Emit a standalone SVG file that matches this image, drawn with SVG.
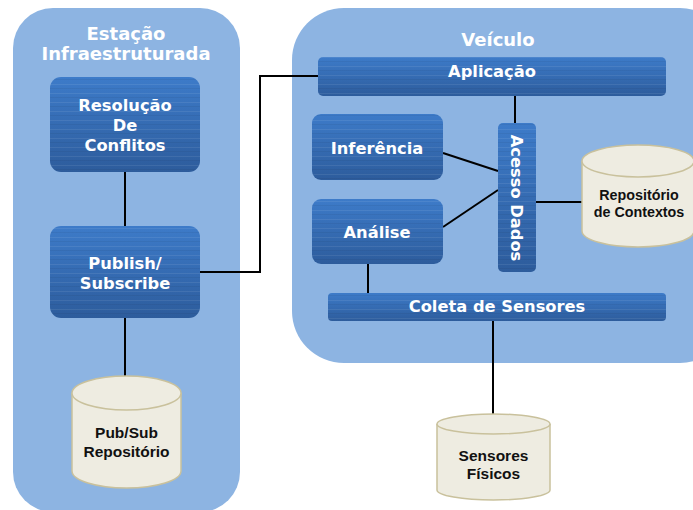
<svg xmlns="http://www.w3.org/2000/svg" width="693" height="510" viewBox="0 0 693 510">
<defs>
<linearGradient id="boxGrad" x1="0" y1="0" x2="0" y2="1">
<stop offset="0" stop-color="#3d7bc9"/>
<stop offset="1" stop-color="#2d5c9c"/>
</linearGradient>
<pattern id="stripes" width="8" height="9" patternUnits="userSpaceOnUse">
<rect x="0" y="3" width="8" height="1" fill="#ffffff" opacity="0.08"/>
<rect x="0" y="7" width="8" height="1" fill="#000000" opacity="0.05"/>
</pattern>
<style>
.container{fill:#8db4e2;}
.box{fill:url(#boxGrad);}
.tex{fill:url(#stripes);}
.title{font-family:"DejaVu Sans",sans-serif;font-weight:bold;font-size:18px;fill:#ffffff;text-anchor:middle;}
.lbl{font-family:"DejaVu Sans",sans-serif;font-weight:bold;font-size:16.3px;fill:#ffffff;text-anchor:middle;}
.cyl{fill:#eeece1;stroke:#c9c19c;stroke-width:1.5;}
.clbl{font-family:"Liberation Sans",Arial,sans-serif;font-weight:bold;font-size:15.5px;fill:#111111;text-anchor:middle;}
.conn{stroke:#000000;stroke-width:2;fill:none;}
</style>
</defs>
<rect width="693" height="510" fill="#ffffff"/>

<g id="estacao">
<rect class="container" x="13" y="8" width="227" height="504" rx="40"/>
<text class="title" x="126" y="40">Estação</text>
<text class="title" x="126" y="60">Infraestruturada</text>
</g>

<g id="veiculo">
<rect class="container" x="292" y="8" width="440" height="355" rx="52"/>
<text class="title" x="498" y="46">Veículo</text>
</g>

<g id="connectors">
<line class="conn" x1="125" y1="172" x2="125" y2="226"/>
<line class="conn" x1="125" y1="318" x2="125" y2="377"/>
<polyline class="conn" points="200,272 260,272 260,76 318,76"/>
<line class="conn" x1="515" y1="96" x2="515" y2="124"/>
<line class="conn" x1="443" y1="153" x2="498" y2="171"/>
<line class="conn" x1="443" y1="227" x2="498" y2="190"/>
<line class="conn" x1="536" y1="202" x2="583" y2="202"/>
<line class="conn" x1="368" y1="264" x2="368" y2="293"/>
<line class="conn" x1="493" y1="321" x2="493" y2="414"/>
</g>

<g id="resolucao">
<rect class="box" x="50" y="77" width="150" height="95" rx="11"/>
<rect class="tex" x="50" y="77" width="150" height="95" rx="11"/>
<text class="lbl" x="125" y="111">Resolução</text>
<text class="lbl" x="125" y="131">De</text>
<text class="lbl" x="125" y="151">Conflitos</text>
</g>

<g id="publish">
<rect class="box" x="50" y="226" width="150" height="92" rx="11"/>
<rect class="tex" x="50" y="226" width="150" height="92" rx="11"/>
<text class="lbl" x="125" y="269">Publish/</text>
<text class="lbl" x="125" y="289">Subscribe</text>
</g>

<g id="pubsub-repo">
<path class="cyl" d="M72,393 L72,471 A54.5,17 0 0 0 181,471 L181,393 A54.5,17 0 0 0 72,393 Z"/>
<path class="cyl" d="M72,393 A54.5,17 0 0 0 181,393" fill="none"/>
<text class="clbl" x="126.5" y="438">Pub/Sub</text>
<text class="clbl" x="126.5" y="457">Repositório</text>
</g>

<g id="aplicacao">
<rect class="box" x="318" y="57" width="348" height="39" rx="5"/>
<rect class="tex" x="318" y="57" width="348" height="39" rx="5"/>
<text class="lbl" x="492" y="77">Aplicação</text>
</g>

<g id="inferencia">
<rect class="box" x="312" y="114" width="131" height="66" rx="9"/>
<rect class="tex" x="312" y="114" width="131" height="66" rx="9"/>
<text class="lbl" x="377" y="154">Inferência</text>
</g>

<g id="analise">
<rect class="box" x="312" y="199" width="131" height="65" rx="9"/>
<rect class="tex" x="312" y="199" width="131" height="65" rx="9"/>
<text class="lbl" x="377" y="238">Análise</text>
</g>

<g id="acesso">
<rect class="box" x="498" y="123" width="38" height="149" rx="5"/>
<rect class="tex" x="498" y="123" width="38" height="149" rx="5"/>
<text class="lbl" transform="translate(511,198) rotate(90)">Acesso Dados</text>
</g>

<g id="repo-contextos">
<path class="cyl" d="M582,161 L582,231 A56,16 0 0 0 694,231 L694,161 A56,16 0 0 0 582,161 Z"/>
<path class="cyl" d="M582,161 A56,16 0 0 0 694,161" fill="none"/>
<text class="clbl" style="font-size:14.3px" x="639" y="200">Repositório</text>
<text class="clbl" style="font-size:14.3px" x="639" y="217">de Contextos</text>
</g>

<g id="coleta">
<rect class="box" x="328" y="293" width="338" height="28" rx="4"/>
<rect class="tex" x="328" y="293" width="338" height="28" rx="4"/>
<text class="lbl" x="497" y="312">Coleta de Sensores</text>
</g>

<g id="sensores">
<path class="cyl" d="M437,424 L437,490 A56.5,10 0 0 0 550,490 L550,424 A56.5,10 0 0 0 437,424 Z"/>
<path class="cyl" d="M437,424 A56.5,10 0 0 0 550,424" fill="none"/>
<text class="clbl" x="493.5" y="461">Sensores</text>
<text class="clbl" x="493.5" y="479">Físicos</text>
</g>
</svg>
